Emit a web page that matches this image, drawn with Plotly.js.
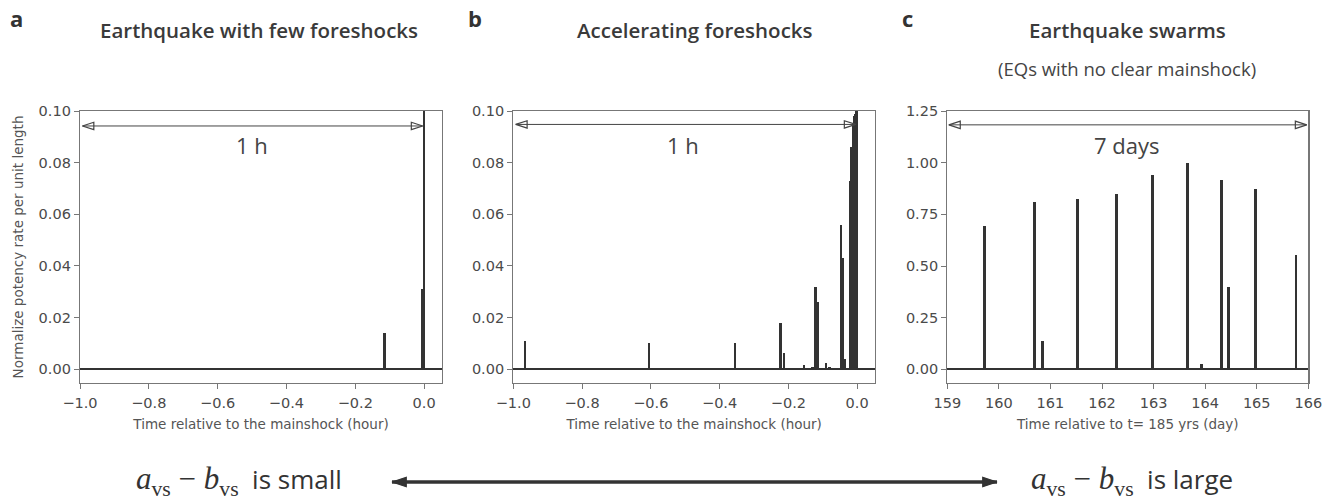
<!DOCTYPE html>
<html>
<head>
<meta charset="utf-8">
<script src="https://cdn.plot.ly/plotly-3.0.1.min.js"></script>
<style>html,body{margin:0;padding:0;background:#fff;}#chart{width:1333px;height:500px;}</style>
</head>
<body>
<div id="chart"></div>
<script>
// Panel a: earthquake with few foreshocks (time in hours relative to mainshock)
const aTimes = [-0.115, -0.006, -0.004, 0.0];
const aRates = [0.014, 0.031, 0.020, 1.0];

// Panel b: accelerating foreshocks
const bTimes = [-0.966, -0.605, -0.355, -0.223, -0.213, -0.155, -0.130, -0.121, -0.115, -0.091, -0.080,
                -0.047, -0.041, -0.037, -0.019, -0.016, -0.013, -0.010, -0.007, -0.004, -0.002, 0.0];
const bRates = [0.011, 0.010, 0.010, 0.018, 0.0065, 0.0015, 0.001, 0.032, 0.026, 0.0025, 0.0008,
                0.056, 0.043, 0.004, 0.073, 0.086, 0.086, 0.095, 0.098, 0.099, 0.100, 1.0];

// Panel c: earthquake swarms (time in days relative to t = 185 yrs)
const cTimes = [159.72, 160.69, 160.84, 161.53, 162.28, 162.98, 163.65, 163.93, 164.31, 164.46, 164.97, 165.76];
const cRates = [0.695, 0.81, 0.135, 0.825, 0.848, 0.94, 1.00, 0.025, 0.915, 0.40, 0.873, 0.553];

const abTicks = [-1.0, -0.8, -0.6, -0.4, -0.2, 0.0];
const abYTicks = [0.00, 0.02, 0.04, 0.06, 0.08, 0.10];
const cXTicks = [159, 160, 161, 162, 163, 164, 165, 166];
const cYTicks = [0.00, 0.25, 0.50, 0.75, 1.00, 1.25];

const panelTitles = ['Earthquake with few foreshocks', 'Accelerating foreshocks', 'Earthquake swarms'];
const panelLetters = ['a', 'b', 'c'];
const spanLabels = ['1 h', '1 h', '7 days'];

const barColor = '#333333';
const tickFont = {family: 'DejaVu Sans', size: 14.5, color: '#4a4a4a'};
const axTitleFont = {family: 'DejaVu Sans', size: 13.5, color: '#555555'};
const frame = '#777777';

function bar(x, y, xa, ya, w) {
  return {type: 'bar', x: x, y: y, xaxis: xa, yaxis: ya, width: w,
          marker: {color: barColor, line: {width: 0}}, hoverinfo: 'x+y', showlegend: false};
}

// double-headed span arrows (a line with arrowhead markers at both ends)
function spanArrow(xa, ya, x0, x1, y, color, width, symbol, size) {
  return {type: 'scatter', mode: 'lines+markers', x: [x0, x1], y: [y, y], xaxis: xa, yaxis: ya,
          line: {color: color, width: width},
          marker: {symbol: symbol, size: size, angle: [-90, 90], color: color, line: {color: color, width: 1.2}},
          cliponaxis: false, hoverinfo: 'skip', showlegend: false};
}

const data = [
  bar(aTimes, aRates, 'x', 'y', 0.0075),
  bar(bTimes, bRates, 'x2', 'y2', 0.0075),
  bar(cTimes, cRates, 'x3', 'y3', 0.055),
  spanArrow('x', 'y', -0.993, -0.004, 0.0942, '#444', 1, 'arrow-open', 12),
  spanArrow('x2', 'y2', -0.993, -0.004, 0.0948, '#444', 1, 'arrow-open', 12),
  spanArrow('x3', 'y3', 159.03, 165.97, 1.183, '#444', 1, 'arrow-open', 12),
  spanArrow('x4', 'y4', 392, 997, 482, '#333', 3.5, 'arrow', 15)
];

function xax(domain, range, ticks, fmt, title, anchor) {
  return {domain: domain, range: range, anchor: anchor, tickvals: ticks, tickformat: fmt,
          showgrid: false, zeroline: false, showline: true, mirror: true, linecolor: frame, linewidth: 1.2,
          ticks: 'outside', ticklen: 5, tickwidth: 1, tickcolor: frame, tickfont: tickFont,
          ticklabelstandoff: 1,
          title: {text: title, font: axTitleFont, standoff: 10}};
}
function yax(range, ticks, fmt, anchor, title) {
  const o = {domain: [0.234, 0.778], range: range, anchor: anchor, tickvals: ticks, tickformat: fmt,
          showgrid: false, zeroline: true, zerolinecolor: '#333333', zerolinewidth: 2,
          showline: true, mirror: true, linecolor: frame, linewidth: 1.2,
          ticks: 'outside', ticklen: 5, tickwidth: 1, tickcolor: frame, tickfont: tickFont};
  if (title) o.title = {text: title, font: axTitleFont, standoff: 11};
  return o;
}

const annFont = {family: 'Open Sans', size: 20.5, weight: 600, color: '#3a3a3a'};
const annotations = [];
const titleX = [259, 695, 1127];
panelTitles.forEach((t, i) => {
  annotations.push({xref: 'paper', yref: 'paper', x: titleX[i] / 1333, y: 1 - 30 / 500, text: t,
    showarrow: false, font: annFont, xanchor: 'center', yanchor: 'middle'});
});
const letterX = [16, 475, 907];
panelLetters.forEach((t, i) => {
  annotations.push({xref: 'paper', yref: 'paper', x: letterX[i] / 1333, y: 1 - 18 / 500, text: '<b>' + t + '</b>',
    showarrow: false, font: {family: 'Open Sans', size: 22, color: '#333'}, xanchor: 'center', yanchor: 'middle'});
});
annotations.push({xref: 'paper', yref: 'paper', x: 1127 / 1333, y: 1 - 68 / 500, text: '(EQs with no clear mainshock)',
  showarrow: false, font: {family: 'Open Sans', size: 18.5, color: '#444'}, xanchor: 'center', yanchor: 'middle'});

const spanFont = {family: 'Open Sans', size: 22, color: '#444'};
const spanPos = [['x', 'y', -0.5, 0.087], ['x2', 'y2', -0.505, 0.087], ['x3', 'y3', 162.47, 1.085]];
spanLabels.forEach((t, i) => {
  const p = spanPos[i];
  annotations.push({xref: p[0], yref: p[1], x: p[2], y: p[3], text: t, showarrow: false, font: spanFont});
});

// bottom labels
const mathL = '<span style="font-family:Liberation Serif;font-size:31px">' +
  '<i>a</i><sub>vs</sub> − <i>b</i><sub>vs</sub></span>';
annotations.push({xref: 'paper', yref: 'paper', x: 134 / 1333, y: 1 - 481 / 500, xanchor: 'left', yanchor: 'middle',
  text: mathL + '  is small', showarrow: false, font: {family: 'Open Sans', size: 26, color: '#333'}});
annotations.push({xref: 'paper', yref: 'paper', x: 1029 / 1333, y: 1 - 481 / 500, xanchor: 'left', yanchor: 'middle',
  text: mathL + '  is large', showarrow: false, font: {family: 'Open Sans', size: 26, color: '#333'}});

const layout = {
  width: 1333, height: 500,
  margin: {l: 0, r: 0, t: 0, b: 0},
  paper_bgcolor: '#fff', plot_bgcolor: 'rgba(0,0,0,0)',
  bargap: 0, barmode: 'overlay',
  showlegend: false,
  font: {family: 'DejaVu Sans', color: '#444'},
  xaxis: xax([80 / 1333, 442 / 1333], [-1.0, 0.052], abTicks, '.1f', 'Time relative to the mainshock (hour)', 'y'),
  yaxis: yax([-0.0053, 0.1], abYTicks, '.2f', 'x', 'Normalize potency rate per unit length'),
  xaxis2: xax([513.3 / 1333, 875 / 1333], [-1.0, 0.052], abTicks, '.1f', 'Time relative to the mainshock (hour)', 'y2'),
  yaxis2: yax([-0.0053, 0.1], abYTicks, '.2f', 'x2'),
  xaxis3: xax([947.3 / 1333, 1308.3 / 1333], [159, 166], cXTicks, 'd', 'Time relative to t= 185 yrs (day)', 'y3'),
  yaxis3: yax([-0.066, 1.25], cYTicks, '.2f', 'x3'),
  xaxis4: {domain: [0, 1], range: [0, 1333], anchor: 'y4', visible: false, fixedrange: true},
  yaxis4: {domain: [0, 1], range: [500, 0], anchor: 'x4', visible: false, fixedrange: true},
  annotations: annotations
};

Plotly.newPlot('chart', data, layout, {staticPlot: true, displayModeBar: false});
</script>
</body>
</html>
